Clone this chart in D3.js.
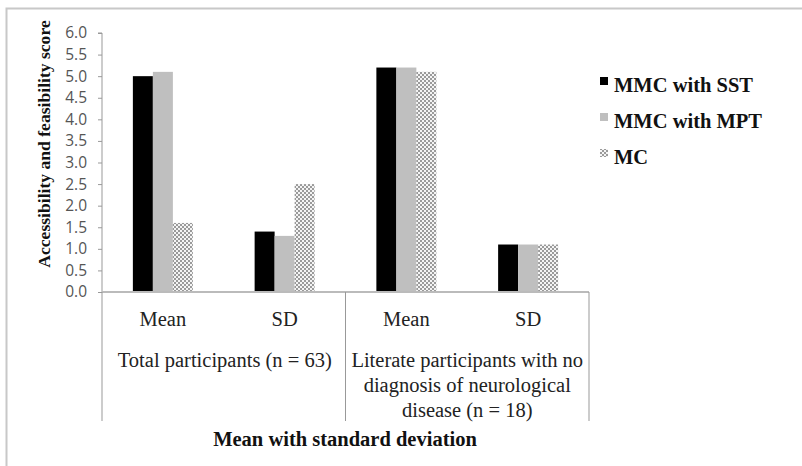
<!DOCTYPE html>
<html><head><meta charset="utf-8">
<script src="https://cdn.jsdelivr.net/npm/d3@7"></script>
<style>body{margin:0;background:#fff}svg{display:block}</style>
</head><body>
<script>
const categories = ["Mean","SD","Mean","SD"];
const groups = ["Total participants (n = 63)", ["Literate participants with no","diagnosis of neurological","disease (n = 18)"]];
const seriesNames = ["MMC with SST","MMC with MPT","MC"];
const sst = [5.0, 1.4, 5.2, 1.1];
const mpt = [5.1, 1.3, 5.2, 1.1];
const mc  = [1.6, 2.5, 5.1, 1.1];
const yTicks = [0,0.5,1,1.5,2,2.5,3,3.5,4,4.5,5,5.5,6];

const W=802,H=466;
const FS="20.5px", SERIF="'Liberation Serif',serif";
const svg=d3.select("body").append("svg").attr("width",W).attr("height",H);
const defs=svg.append("defs");
const pat=defs.append("pattern").attr("id","hatch").attr("width",4).attr("height",4).attr("patternUnits","userSpaceOnUse");
pat.append("rect").attr("width",4).attr("height",4).attr("fill","#f4f4f4");
pat.append("rect").attr("x",0).attr("y",0).attr("width",2).attr("height",2).attr("fill","#9a9a9a");
pat.append("rect").attr("x",2).attr("y",2).attr("width",2).attr("height",2).attr("fill","#9a9a9a");

// outer frame
svg.append("rect").attr("x",6.5).attr("y",8.5).attr("width",W).attr("height",H).attr("fill","none").attr("stroke","#c8c8c8").attr("stroke-width",2);

const x0=102,x1=589,yTop=33,yBot=292;
const y=d3.scaleLinear().domain([0,6]).range([yBot,yTop]);
const x=d3.scaleBand().domain(d3.range(categories.length)).range([x0,x1]);
const xs=d3.scaleBand().domain(d3.range(3)).range([0,60]);
const fills=["#000","#bfbfbf","url(#hatch)"];
const data=[sst,mpt,mc];

// y axis
const yAxis=d3.axisLeft(y).tickValues(yTicks).tickSize(4).tickFormat(d3.format(".1f"));
const ga=svg.append("g").attr("transform",`translate(${x0},0)`).call(yAxis);
ga.select(".domain").attr("stroke","#999").attr("d",`M-4,${yTop}H0V${yBot}`);
ga.selectAll(".tick line").attr("stroke","#999");
ga.selectAll(".tick text").attr("x",-15).attr("fill","#555").style("font-family","'Open Sans',sans-serif").style("font-size","15.5px");

// bars
data.forEach((vals,si)=>{
  svg.append("g").selectAll("rect").data(vals).enter().append("rect")
    .attr("x",(d,i)=>x(i)+x.bandwidth()/2-30+xs(si))
    .attr("width",xs.bandwidth())
    .attr("y",d=>y(d)).attr("height",d=>yBot-y(d))
    .attr("fill",fills[si]);
});

// x axis baseline
svg.append("line").attr("x1",x0).attr("x2",x1).attr("y1",yBot).attr("y2",yBot).attr("stroke","#bbb").attr("stroke-width",2);
// group separators
[x0,x(2),x1].forEach(px=>{
  svg.append("line").attr("x1",px).attr("x2",px).attr("y1",yBot).attr("y2",421).attr("stroke","#999").attr("stroke-width",1);
});
// category labels
svg.append("g").selectAll("text").data(categories).enter().append("text")
  .attr("x",(d,i)=>x(i)+x.bandwidth()/2).attr("y",326).attr("text-anchor","middle")
  .style("font-family",SERIF).style("font-size",FS).attr("fill","#222").text(d=>d);
// group labels
svg.append("text").attr("x",(x0+x(2))/2+1).attr("y",367).attr("text-anchor","middle")
  .style("font-family",SERIF).style("font-size",FS).attr("fill","#222").text(groups[0]);
groups[1].forEach((t,i)=>{
  svg.append("text").attr("x",(x(2)+x1)/2).attr("y",367+i*25).attr("text-anchor","middle")
    .style("font-family",SERIF).style("font-size",FS).attr("fill","#222").text(t);
});
// x title
svg.append("text").attr("x",345).attr("y",446).attr("text-anchor","middle")
  .style("font-family",SERIF).style("font-size",FS).style("font-weight","bold").attr("fill","#111")
  .text("Mean with standard deviation");
// y title
svg.append("text").attr("transform","translate(50,144) rotate(-90)").attr("text-anchor","middle")
  .style("font-family",SERIF).style("font-size","17.6px").style("font-weight","bold").attr("fill","#111")
  .text("Accessibility and feasibility score");

// legend
const lg=svg.append("g");
seriesNames.forEach((n,i)=>{
  const by=92+i*36;
  lg.append("rect").attr("x",600).attr("y",by-15).attr("width",8).attr("height",8).attr("fill",fills[i]);
  lg.append("text").attr("x",614).attr("y",by).style("font-family",SERIF).style("font-size",FS).style("font-weight","bold").attr("fill","#111").text(n);
});
</script>
</body></html>
